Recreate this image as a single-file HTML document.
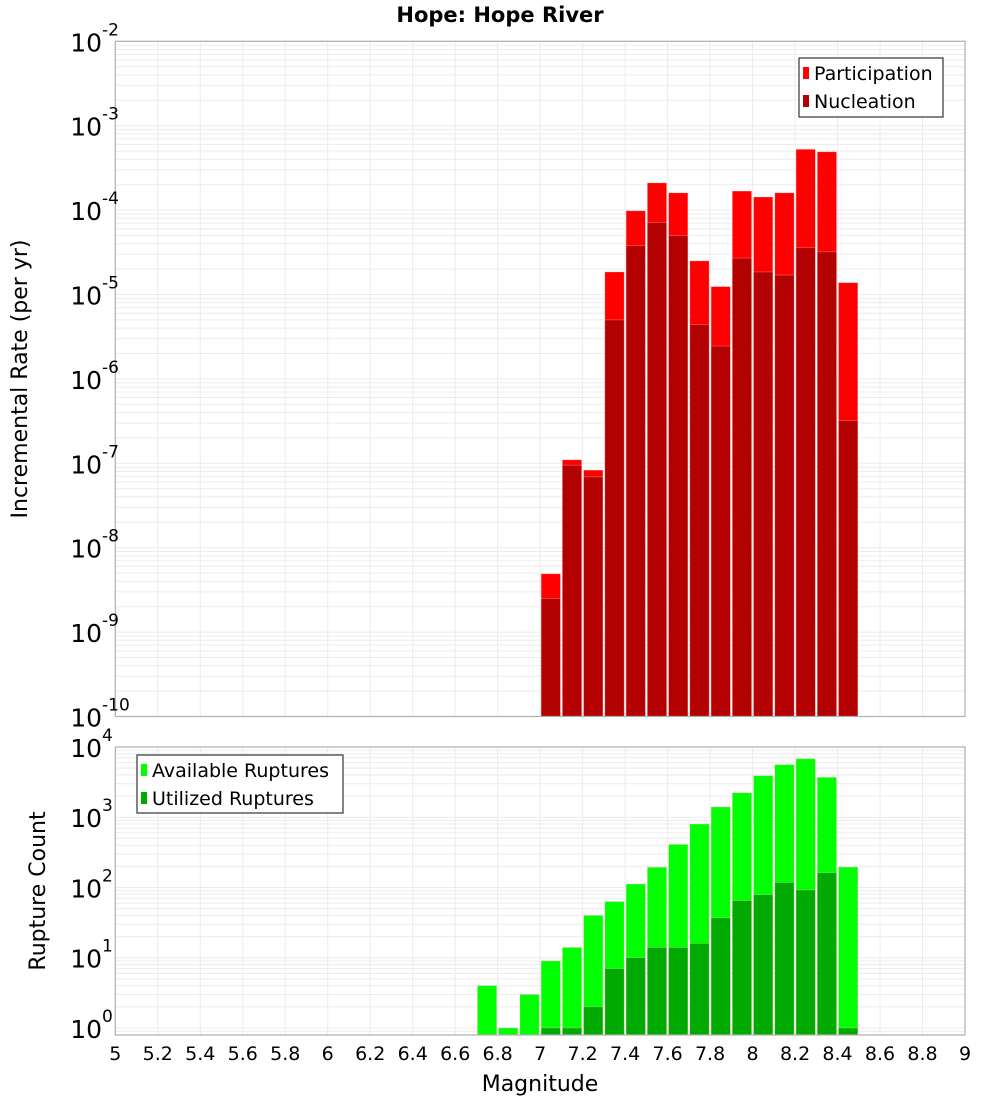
<!DOCTYPE html>
<html><head><meta charset="utf-8"><style>
body{margin:0;background:#fff;}
svg{display:block;font-family:"DejaVu Sans","Liberation Sans",sans-serif;}
</style></head><body>
<svg id="chart" width="1000" height="1100" xmlns="http://www.w3.org/2000/svg">
<text x="500" y="22" text-anchor="middle" font-size="21" font-weight="bold">Hope: Hope River</text>
<g id="top"></g>
<g id="bot"></g>
<text transform="translate(27,379) rotate(-90)" text-anchor="middle" font-size="22">Incremental Rate (per yr)</text>
<text transform="translate(45,891) rotate(-90)" text-anchor="middle" font-size="22">Rupture Count</text>
<text x="540" y="1091" text-anchor="middle" font-size="22">Magnitude</text>
</svg>
<script>
const binCenters=[6.75,6.85,6.95,7.05,7.15,7.25,7.35,7.45,7.55,7.65,7.75,7.85,7.95,8.05,8.15,8.25,8.35,8.45];
const participation=[0,0,0,4.9e-9,1.1e-7,8.3e-8,1.85e-5,9.8e-5,2.1e-4,1.6e-4,2.5e-5,1.24e-5,1.68e-4,1.43e-4,1.6e-4,5.25e-4,4.9e-4,1.38e-5];
const nucleation=[0,0,0,2.5e-9,9.5e-8,6.9e-8,5e-6,3.8e-5,7.1e-5,5.0e-5,4.4e-6,2.45e-6,2.7e-5,1.85e-5,1.7e-5,3.6e-5,3.2e-5,3.2e-7];
const available=[4,1,3,9,14,40,63,112,194,410,800,1400,2230,3900,5600,6800,3700,195];
const utilized=[0,0,0,1,1,2,7,10,14,14,16,37,65,79,118,92,162,1];
const xTicks=[5,5.2,5.4,5.6,5.8,6,6.2,6.4,6.6,6.8,7,7.2,7.4,7.6,7.8,8,8.2,8.4,8.6,8.8,9];
const topExps=[-2,-3,-4,-5,-6,-7,-8,-9,-10];
const botExps=[4,3,2,1,0];

const NS="http://www.w3.org/2000/svg";
const L=115.3,R=965;
const X=v=>L+(v-5)/4*(R-L);
function mk(p,t,a){const e=document.createElementNS(NS,t);for(const k in a)e.setAttribute(k,a[k]);p.appendChild(e);return e;}
function plot(g,top,bot,lmin,lmax,exps,series,colors,names,bigSup){
  const Y=v=>bot-(Math.log10(v)-lmin)/(lmax-lmin)*(bot-top);
  for(let d=Math.floor(lmin);d<=lmax;d++)for(let m=1;m<10;m++){const lv=d+Math.log10(m);if(lv<lmin||lv>lmax)continue;const y=Y(Math.pow(10,lv));
    const l=mk(g,'line',{x1:L,x2:R,y1:y,y2:y,stroke:'#ebebeb','stroke-width':1});
    
    }
  xTicks.forEach(t=>{const x=X(t);const l=mk(g,'line',{x1:x,x2:x,y1:top,y2:bot,stroke:'#ebebeb','stroke-width':1});
    
    });
  series.forEach((s,si)=>{s.forEach((v,i)=>{if(v<=0)return;const c=binCenters[i];const x0=X(c-0.05)+1,x1=X(c+0.05)-1;const y=Y(v);
    const r=mk(g,'rect',{x:x0,y:y,width:x1-x0,height:bot-y,fill:colors[si],stroke:'rgba(255,200,200,0.5)','stroke-width':0.6});
    
    });});
  const f=mk(g,'rect',{x:L,y:top,width:R-L,height:bot-top,fill:'none',stroke:'#b0b0b0','stroke-width':1.2});
  
  
  exps.forEach(e=>{const y=Y(Math.pow(10,e));
    const t=mk(g,'text',{x:102,y:y+10,'text-anchor':'end','font-size':25});t.textContent='10';
    
    
    const s=mk(g,'text',{x:102,y:y-6,'font-size':bigSup?17:17});s.textContent=String(e);
    
    });
  return Y;
}
const gt=document.getElementById('top'),gb=document.getElementById('bot');
plot(gt,41.3,716.5,-10,-2,topExps,[participation,nucleation],['#ff0000','#b30000'],['participation','nucleation']);
plot(gb,747,1035,-0.1,4,botExps,[available,utilized],['#00ff00','#00aa00'],['available','utilized']);
xTicks.forEach(t=>{const e=mk(gb,'text',{x:X(t),y:1060,'text-anchor':'middle','font-size':19});e.textContent=String(t);
  
  });
function legend(g,x,y,w,h,items,name){
  const lg=mk(g,'g',{});
  
  
  mk(lg,'rect',{x:x,y:y,width:w,height:h,fill:'#fff',stroke:'#333','stroke-width':1.2});
  items.forEach((it,i)=>{const yy=y+15+i*28;
    mk(lg,'rect',{x:x+4,y:yy-6,width:6,height:12,fill:it[1]});
    const t=mk(lg,'text',{x:x+15,y:yy+7,'font-size':19});t.textContent=it[0];
    
    });
}
legend(gt,799,58,144,59,[['Participation','#ff0000'],['Nucleation','#b30000']],'rate-legend');
legend(gb,137,755,206,58,[['Available Ruptures','#00ff00'],['Utilized Ruptures','#00aa00']],'count-legend');
</script>
</body></html>
